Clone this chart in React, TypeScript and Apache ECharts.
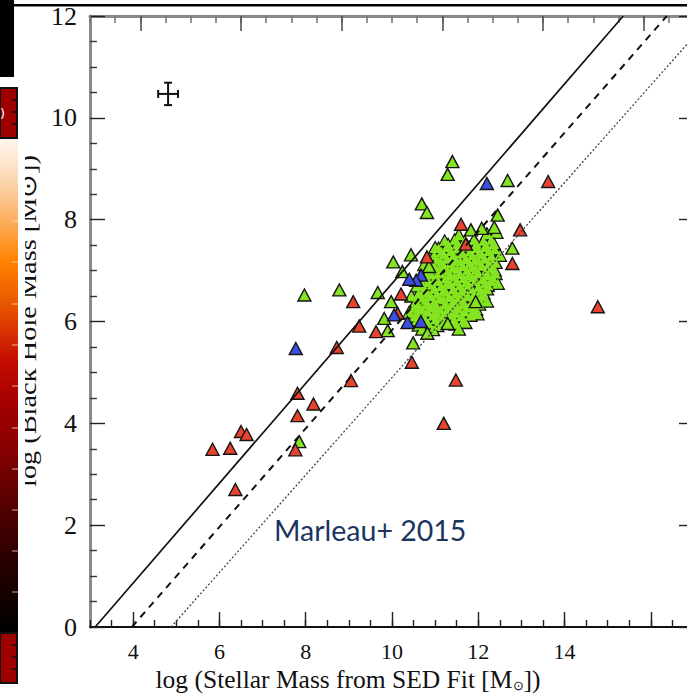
import React, { useEffect, useRef } from "react";
import * as echarts from "echarts";

// ---- axes ----
const xRange = [3, 17];
const yRange = [0, 12];
const topRange = [0, 24];
const xMajorTicks = [4, 6, 8, 10, 12, 14, 16];
const xTickLabels = [4, 6, 8, 10, 12, 14];
const topMajorTicks = [2, 6, 10, 14, 18, 22];

// ---- data: [log M*, log MBH] ----
const redPoints = [
  [5.84, 3.49], [6.25, 3.51], [6.5, 3.84], [6.63, 3.78], [6.37, 2.7],
  [7.81, 4.59], [8.18, 4.38], [7.81, 4.15], [7.76, 3.48], [9.05, 4.84],
  [8.72, 5.49], [9.24, 5.91], [9.63, 5.8], [9.1, 6.39], [10.21, 6.54],
  [10.13, 6.16], [10.81, 7.27], [11.6, 7.91], [12.97, 7.8], [13.62, 8.75],
  [11.71, 7.52], [12.79, 7.14], [14.77, 6.29], [11.48, 4.85], [11.2, 4.0],
  [10.46, 5.2],
];

const bluePoints = [
  [7.77, 5.47], [12.2, 8.71], [10.67, 6.91], [10.56, 6.81], [10.4, 6.83],
  [10.05, 6.13], [10.36, 5.98], [10.67, 6.0],
];

const greenOutliers = [
  [11.4, 9.14], [11.29, 8.89], [10.69, 8.31], [10.81, 8.14], [12.68, 8.77],
  [12.45, 8.09], [11.83, 7.8], [12.08, 7.83], [12.37, 7.85], [12.79, 7.44],
  [10.44, 7.31], [10.03, 7.17], [10.24, 6.98], [10.86, 7.08], [9.67, 6.57],
  [9.98, 6.39], [9.82, 6.06], [9.9, 5.82], [11.29, 5.96], [11.94, 6.39],
  [8.78, 6.62], [7.97, 6.52], [7.85, 3.64], [10.49, 5.58], [10.82, 5.77],
];

const greenCluster = [
  [10.62, 5.93], [10.84, 5.96], [11.05, 5.92], [11.27, 5.97], [11.48, 5.95], [11.7, 5.98],
  [10.52, 6.1], [10.73, 6.08], [10.95, 6.12], [11.16, 6.09], [11.38, 6.13], [11.6, 6.1], [11.82, 6.12],
  [10.5, 6.26], [10.7, 6.24], [10.9, 6.27], [11.12, 6.23], [11.33, 6.28], [11.55, 6.25], [11.76, 6.27], [11.95, 6.24],
  [10.56, 6.4], [10.78, 6.42], [10.98, 6.39], [11.2, 6.43], [11.42, 6.4], [11.63, 6.42], [11.85, 6.38], [12.04, 6.41],
  [10.62, 6.55], [10.82, 6.57], [11.04, 6.54], [11.25, 6.58], [11.47, 6.55], [11.68, 6.57], [11.9, 6.53], [12.12, 6.56],
  [10.72, 6.7], [10.93, 6.72], [11.14, 6.69], [11.36, 6.73], [11.57, 6.7], [11.78, 6.72], [12.0, 6.68], [12.22, 6.71],
  [10.8, 6.85], [11.02, 6.87], [11.24, 6.84], [11.45, 6.88], [11.66, 6.85], [11.88, 6.87], [12.1, 6.83], [12.33, 6.86],
  [10.86, 7.0], [11.08, 7.02], [11.3, 6.99], [11.52, 7.03], [11.74, 7.0], [11.95, 7.02], [12.17, 6.98], [12.38, 7.01],
  [10.92, 7.15], [11.14, 7.17], [11.36, 7.14], [11.58, 7.18], [11.8, 7.15], [12.02, 7.17], [12.24, 7.13], [12.4, 7.16],
  [10.98, 7.3], [11.2, 7.32], [11.42, 7.29], [11.64, 7.33], [11.86, 7.3], [12.08, 7.32], [12.3, 7.28],
  [11.08, 7.44], [11.3, 7.46], [11.52, 7.43], [11.74, 7.47], [11.96, 7.44], [12.18, 7.46], [12.38, 7.42],
  [11.22, 7.58], [11.45, 7.6], [11.68, 7.57], [11.9, 7.6], [12.12, 7.58], [12.3, 7.6],
  [12.42, 7.75],
];

const greenClusterFill = [
  [10.58, 6.03], [10.79, 6.01], [11.01, 6.04], [11.22, 6.0], [11.44, 6.03], [11.66, 6.02],
  [10.61, 6.18], [10.82, 6.2], [11.03, 6.16], [11.25, 6.19], [11.47, 6.17], [11.68, 6.2], [11.87, 6.16],
  [10.6, 6.33], [10.81, 6.35], [11.02, 6.31], [11.23, 6.34], [11.45, 6.32], [11.66, 6.35], [11.88, 6.31], [12.02, 6.34],
  [10.68, 6.48], [10.9, 6.5], [11.11, 6.46], [11.32, 6.49], [11.54, 6.47], [11.76, 6.5], [11.97, 6.46], [12.1, 6.49],
  [10.76, 6.63], [10.98, 6.65], [11.2, 6.61], [11.42, 6.64], [11.63, 6.62], [11.84, 6.65], [12.06, 6.61], [12.2, 6.64],
  [10.84, 6.78], [11.06, 6.8], [11.28, 6.76], [11.5, 6.79], [11.72, 6.77], [11.94, 6.8], [12.16, 6.76], [12.3, 6.79],
  [10.9, 6.93], [11.12, 6.95], [11.34, 6.91], [11.56, 6.94], [11.78, 6.92], [12.0, 6.95], [12.22, 6.91], [12.4, 6.94],
  [10.98, 7.08], [11.2, 7.1], [11.42, 7.06], [11.64, 7.09], [11.86, 7.07], [12.08, 7.1], [12.3, 7.06],
  [11.05, 7.22], [11.27, 7.24], [11.49, 7.2], [11.71, 7.23], [11.93, 7.21], [12.15, 7.24], [12.36, 7.2],
  [11.15, 7.37], [11.37, 7.39], [11.59, 7.35], [11.81, 7.38], [12.03, 7.36], [12.25, 7.39],
  [11.3, 7.51], [11.52, 7.53], [11.74, 7.49], [11.96, 7.52], [12.18, 7.5], [12.36, 7.53],
  [10.45, 6.5], [10.4, 6.18], [10.58, 6.7], [10.75, 7.12], [11.0, 7.45], [11.55, 7.7],
  [12.2, 7.72], [12.5, 7.3], [12.45, 6.75], [12.2, 6.4], [11.98, 6.15], [11.55, 5.85],
  [10.95, 5.84], [10.7, 5.85],
];

// typical uncertainty: [x, y, dx, dy]
const errorBar = [[4.81, 10.47, 0.23, 0.22]];

// relations
const solidLine = [[3.12, 0], [15.36, 12]];
const dashedLine = [[3.97, 0], [16.37, 12]];
const dottedLine = [[4.88, 0], [17.0, 11.6]];

const colorbarTicksY = [221, 262, 304, 345, 386, 428, 469, 510, 551, 592];

const RED = "#e8432d";
const GREEN = "#84e41f";
const BLUE = "#3b4fe0";
const TICK_FONT = "Liberation Serif";

function buildGraphics(): any[] {
  const graphics: any[] = [];
  // y axis title (rotated, partially hidden)
  graphics.push({
    type: "text",
    x: 28,
    y: 321,
    rotation: Math.PI / 2,
    scaleX: 1.18,
    z: 1,
    style: {
      text: "log (Black Hole Mass [M⊙])",
      font: `24px '${TICK_FONT}'`,
      fill: "#111",
      align: "center",
      verticalAlign: "middle",
    },
  });
  // white mask over left strip
  graphics.push({
    type: "rect",
    shape: { x: 0, y: 0, width: 25, height: 696 },
    style: { fill: "#fff" },
    z: 5,
  });
  // colour bar gradient
  graphics.push({
    type: "rect",
    shape: { x: 0, y: 138, width: 18, height: 495 },
    style: {
      fill: new echarts.graphic.LinearGradient(0, 0, 0, 1, [
        { offset: 0, color: "#fff6ee" },
        { offset: 0.06, color: "#fde2c6" },
        { offset: 0.13, color: "#fbc185" },
        { offset: 0.25, color: "#ff8200" },
        { offset: 0.34, color: "#e85400" },
        { offset: 0.45, color: "#c40c00" },
        { offset: 0.54, color: "#a30000" },
        { offset: 0.64, color: "#820000" },
        { offset: 0.74, color: "#560000" },
        { offset: 0.85, color: "#2a0000" },
        { offset: 1, color: "#000000" },
      ]),
    },
    z: 6,
  });
  colorbarTicksY.forEach((y) => {
    graphics.push({
      type: "line",
      shape: { x1: 12, y1: y, x2: 18, y2: y },
      style: { stroke: "rgba(255,230,210,0.75)", lineWidth: 1 },
      z: 7,
    });
  });
  // red boxes (colour bar ends)
  [88, 633].forEach((y0) => {
    graphics.push({
      type: "rect",
      shape: { x: 0, y: y0, width: 17, height: 50 },
      style: { fill: "#9e0000", stroke: "#111", lineWidth: 2 },
      z: 7,
    });
    [12, 24, 36].forEach((dy) => {
      graphics.push({
        type: "line",
        shape: { x1: 12, y1: y0 + dy, x2: 17, y2: y0 + dy },
        style: { stroke: "#111", lineWidth: 1.5 },
        z: 8,
      });
    });
  });
  graphics.push({
    type: "text",
    x: 0,
    y: 113,
    z: 8,
    style: { text: ")", font: "13px 'DejaVu Sans'", fill: "#fff", align: "left", verticalAlign: "middle" },
  });
  // black box top-left and top rule
  graphics.push({ type: "rect", shape: { x: 0, y: 0, width: 14, height: 77 }, style: { fill: "#000" }, z: 8 });
  graphics.push({ type: "rect", shape: { x: 14, y: 4, width: 673, height: 2.6 }, style: { fill: "#000" }, z: 8 });
  // x axis title
  graphics.push({
    type: "text",
    x: 348,
    y: 679,
    z: 8,
    style: {
      text: "{a|log (Stellar Mass from SED Fit [M}{s|⊙}{a|])}",
      align: "center",
      verticalAlign: "middle",
      rich: {
        a: { fontFamily: TICK_FONT, fontSize: 25.5, fill: "#111", lineHeight: 25, verticalAlign: "middle" },
        s: { fontFamily: TICK_FONT, fontSize: 13, fill: "#111", lineHeight: 11, verticalAlign: "bottom" },
      },
    },
  });
  // annotation
  graphics.push({
    type: "text",
    x: 274,
    y: 530,
    z: 8,
    style: {
      text: "Marleau+ 2015",
      font: "28.5px Lato",
      fill: "#1c355f",
      align: "left",
      verticalAlign: "middle",
    },
  });
  return graphics;
}

function buildOption(graphics: any[]) {
  const triangle = (color: string, data: number[][], z: number, border = true, size: number[] = [13, 12]) => ({
    type: "scatter",
    data,
    symbol: "triangle",
    symbolSize: size,
    itemStyle: { color, borderColor: "#151515", borderWidth: border ? 1.4 : 0, opacity: 1 },
    z,
    silent: true,
  });

  const axisCommon = {
    splitLine: { show: false },
    axisPointer: { show: false },
  };

  return {
    animation: false,
    backgroundColor: "#ffffff",
    grid: { left: 90, top: 16, width: 604, height: 611, outerBoundsMode: "none", containLabel: false },
    xAxis: [
      {
        ...axisCommon,
        type: "value",
        position: "bottom",
        min: xRange[0],
        max: xRange[1],
        axisLine: { show: true, onZero: false, lineStyle: { color: "#111", width: 2 } },
        axisTick: { show: true, inside: true, length: 15, customValues: xMajorTicks, lineStyle: { color: "#222", width: 1.4 } },
        axisLabel: { show: false },
      },
      {
        ...axisCommon,
        type: "value",
        position: "bottom",
        min: xRange[0],
        max: xRange[1],
        interval: 0.5,
        axisLine: { show: false, onZero: false },
        axisTick: { show: true, inside: true, length: 7, lineStyle: { color: "#222", width: 1.4 } },
        axisLabel: { show: false },
      },
      {
        ...axisCommon,
        type: "value",
        position: "top",
        min: topRange[0],
        max: topRange[1],
        interval: 1,
        axisLine: { show: true, onZero: false, lineStyle: { color: "#8a8a8a", width: 3 } },
        axisTick: { show: true, inside: true, length: 7, lineStyle: { color: "#777", width: 1.6 } },
        axisLabel: { show: false },
      },
      {
        ...axisCommon,
        type: "value",
        position: "top",
        min: topRange[0],
        max: topRange[1],
        axisLine: { show: false, onZero: false },
        axisTick: { show: true, inside: true, length: 15, customValues: topMajorTicks, lineStyle: { color: "#555", width: 1.6 } },
        axisLabel: { show: false },
      },
    ],
    yAxis: [
      {
        ...axisCommon,
        type: "value",
        position: "left",
        min: yRange[0],
        max: yRange[1],
        interval: 2,
        axisLine: { show: true, onZero: false, lineStyle: { color: "#8a8a8a", width: 3 } },
        axisTick: { show: true, inside: true, length: 15, lineStyle: { color: "#222", width: 1.4 } },
        minorTick: { show: true, splitNumber: 4, length: 7, lineStyle: { color: "#333", width: 1.4 } },
        minorSplitLine: { show: false },
        axisLabel: { show: true, margin: 13, fontFamily: TICK_FONT, fontSize: 26, color: "#111" },
      },
      {
        ...axisCommon,
        type: "value",
        position: "right",
        min: yRange[0],
        max: yRange[1],
        interval: 2,
        axisLine: { show: true, onZero: false, lineStyle: { color: "#111", width: 2 } },
        axisTick: { show: true, inside: true, length: 15, lineStyle: { color: "#222", width: 1.4 } },
        minorTick: { show: true, splitNumber: 4, length: 7, lineStyle: { color: "#333", width: 1.4 } },
        minorSplitLine: { show: false },
        axisLabel: { show: false },
      },
    ],
    graphic: graphics,
    series: [
      triangle(GREEN, greenCluster, 2),
      triangle(GREEN, greenClusterFill, 2),
      // interior cover pass: same cluster points, no outline, so only the outer edge stays dark
      triangle(GREEN, greenCluster, 2, false, [10.5, 9.5]),
      triangle(GREEN, greenClusterFill, 2, false, [10.5, 9.5]),
      triangle(GREEN, greenOutliers, 2),
      triangle(RED, redPoints, 3),
      triangle(BLUE, bluePoints, 3),
      {
        type: "line",
        data: solidLine,
        symbol: "none",
        lineStyle: { color: "#111", width: 1.7, type: "solid" },
        z: 4,
        silent: true,
      },
      {
        type: "line",
        data: dashedLine,
        symbol: "none",
        lineStyle: { color: "#111", width: 2, type: [7, 6] },
        z: 4,
        silent: true,
      },
      {
        type: "line",
        data: dottedLine,
        symbol: "none",
        lineStyle: { color: "#444", width: 1.3, type: [2, 2] },
        z: 4,
        silent: true,
      },
      {
        type: "custom",
        data: errorBar,
        z: 4,
        silent: true,
        renderItem: (_params: any, api: any) => {
          const x = api.value(0);
          const y = api.value(1);
          const dx = api.value(2);
          const dy = api.value(3);
          const l = api.coord([x - dx, y]);
          const r = api.coord([x + dx, y]);
          const t = api.coord([x, y + dy]);
          const b = api.coord([x, y - dy]);
          const cap = 4;
          const style = { stroke: "#111", lineWidth: 2 };
          return {
            type: "group",
            children: [
              { type: "line", shape: { x1: l[0], y1: l[1], x2: r[0], y2: r[1] }, style },
              { type: "line", shape: { x1: t[0], y1: t[1], x2: b[0], y2: b[1] }, style },
              { type: "line", shape: { x1: l[0], y1: l[1] - cap, x2: l[0], y2: l[1] + cap }, style },
              { type: "line", shape: { x1: r[0], y1: r[1] - cap, x2: r[0], y2: r[1] + cap }, style },
              { type: "line", shape: { x1: t[0] - cap, y1: t[1], x2: t[0] + cap, y2: t[1] }, style },
              { type: "line", shape: { x1: b[0] - cap, y1: b[1], x2: b[0] + cap, y2: b[1] }, style },
            ],
          };
        },
      },
    ],
  };
}

export default function App() {
  const ref = useRef<HTMLDivElement>(null);
  useEffect(() => {
    if (!ref.current) return;
    const chart = echarts.init(ref.current, null, { renderer: "svg" });
    const graphics = buildGraphics();
    chart.setOption(buildOption(graphics) as any);
    // x tick labels: positioned through the chart's own x scale
    const yBase = chart.convertToPixel({ yAxisIndex: 0 }, yRange[0]) as number;
    const tickLabelEls = xTickLabels.map((v) => ({
      type: "text",
      id: "xtick-" + v,
      x: chart.convertToPixel({ xAxisIndex: 0 }, v) as number,
      y: yBase + 24,
      z: 60,
      style: {
        text: String(v),
        font: `22px '${TICK_FONT}'`,
        fill: "#111",
        align: "center",
        verticalAlign: "middle",
      },
    }));
    chart.setOption({ graphic: [...graphics, ...tickLabelEls] } as any);
    return () => chart.dispose();
  }, []);
  return (
    <div
      ref={ref}
      style={{ position: "absolute", left: 0, top: 0, width: 687, height: 696, background: "#fff", overflow: "hidden" }}
    />
  );
}
